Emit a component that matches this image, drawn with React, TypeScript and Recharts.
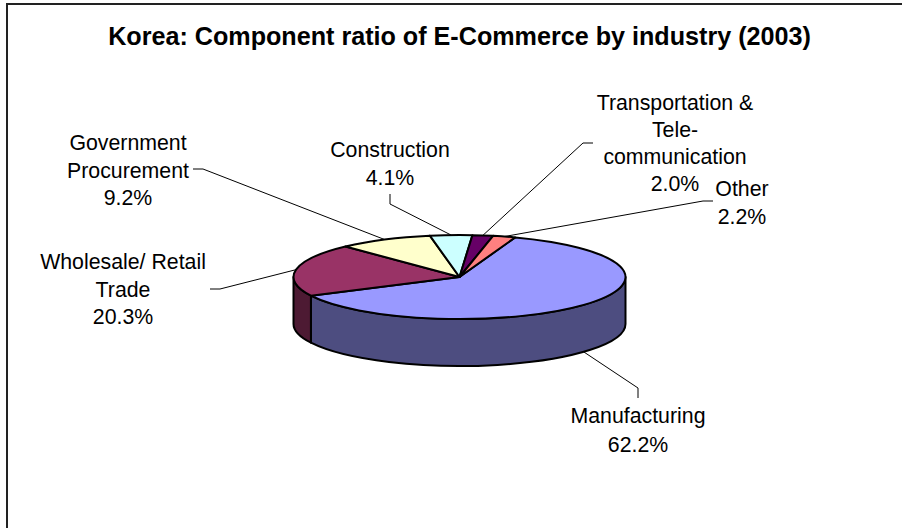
import React from 'react';
import { Pie, PieChart } from 'recharts';

const industries = ['Manufacturing', 'Wholesale/ Retail Trade', 'Government Procurement', 'Construction', 'Transportation & Tele-communication', 'Other'];
const shares = [62.2, 20.3, 9.2, 4.1, 2.0, 2.2];
const topColors = ['#9999FF', '#993366', '#FFFFCC', '#CCFFFF', '#660066', '#FF8080'];
const wallColors = ['#4D4D80', '#4D1A33', '#808066', '#668080', '#330033', '#804040'];

// wrapped text of each label, the last line being the share
const labelLines = [
  ['Manufacturing', '62.2%'],
  ['Wholesale/ Retail', 'Trade', '20.3%'],
  ['Government', 'Procurement', '9.2%'],
  ['Construction', '4.1%'],
  ['Transportation &', 'Tele-', 'communication', '2.0%'],
  ['Other', '2.2%'],
];

const WIDTH = 902;
const HEIGHT = 528;
const CX = 459.5;
const CY = 277;
const RADIUS = 166;
const TILT = 42 / 166;
const DEPTH = 47;
const FONT = '"Liberation Sans", Arial, sans-serif';

// where each label sits: centre x, first baseline, line pitch, and the leader's start and elbow
const labelLayout = [
  { x: 638, y: 423, pitch: 28.5, from: [638, 398], elbow: [638, 388] },
  { x: 123, y: 269, pitch: 27.5, from: [210, 289], elbow: [220, 289] },
  { x: 128, y: 150, pitch: 27.5, from: [193, 169], elbow: [203, 169] },
  { x: 390, y: 157, pitch: 27.5, from: [390, 194], elbow: [390, 204] },
  { x: 675, y: 110, pitch: 27, from: [593, 143], elbow: [583, 143] },
  { x: 742, y: 196, pitch: 27.5, from: [713, 201], elbow: [703, 201] },
];

const chartData = industries.map((name, i) => ({ name, value: shares[i], fill: topColors[i] }));
const wallData = industries.map((name, i) => ({ name, value: shares[i], fill: wallColors[i] }));

const rimPoint = (cx: number, cy: number, r: number, angle: number) => {
  const rad = (angle * Math.PI) / 180;
  return [cx + r * Math.cos(rad), cy - r * TILT * Math.sin(rad)];
};

// top face of a slice, the circle squashed into an ellipse
const TopSlice = (props: any) => {
  const { cx, cy, outerRadius, startAngle, endAngle, fill } = props;
  const [x1, y1] = rimPoint(cx, cy, outerRadius, startAngle);
  const [x2, y2] = rimPoint(cx, cy, outerRadius, endAngle);
  const large = Math.abs(startAngle - endAngle) > 180 ? 1 : 0;
  const d = `M${cx},${cy} L${x1},${y1} A${outerRadius},${outerRadius * TILT} 0 ${large} 1 ${x2},${y2} Z`;
  return <path d={d} fill={fill} stroke="#000" strokeWidth={2} strokeLinejoin="round" />;
};

// side wall of a slice, only the part of it facing the viewer
const WallSlice = (props: any) => {
  const { cx, cy, outerRadius, startAngle, endAngle, fill } = props;
  const hi = Math.min(startAngle, 0);
  const lo = Math.max(endAngle, -180);
  if (hi <= lo) return null;
  const [x1, y1] = rimPoint(cx, cy, outerRadius, hi);
  const [x2, y2] = rimPoint(cx, cy, outerRadius, lo);
  const rx = outerRadius;
  const ry = outerRadius * TILT;
  const d = `M${x1},${y1} A${rx},${ry} 0 0 1 ${x2},${y2} L${x2},${y2 + DEPTH} A${rx},${ry} 0 0 0 ${x1},${y1 + DEPTH} Z`;
  return <path d={d} fill={fill} stroke="#000" strokeWidth={2} strokeLinejoin="round" />;
};

const SliceLabel = (props: any) => {
  const { cx, cy, outerRadius, midAngle, index } = props;
  const layout = labelLayout[index];
  const [ex, ey] = rimPoint(cx, cy, outerRadius, midAngle);
  // a slice whose middle faces the viewer gets its leader from the bottom of the wall
  const front = Math.sin((midAngle * Math.PI) / 180) < -0.5;
  const points = [layout.from, layout.elbow, [ex, front ? ey + DEPTH : ey]].map((p) => p.join(',')).join(' ');
  return (
    <g>
      <polyline points={points} fill="none" stroke="#000" strokeWidth={1} />
      <text textAnchor="middle" fontFamily={FONT} fontSize={21.3} fill="#000">
        {labelLines[index].map((line, i) => (
          <tspan key={i} x={layout.x} y={layout.y + i * layout.pitch}>
            {line}
          </tspan>
        ))}
      </text>
    </g>
  );
};

export default function App() {
  return (
    <div style={{ position: 'absolute', left: 0, top: 0, width: WIDTH, height: HEIGHT, overflow: 'hidden', background: '#fff' }}>
      <div style={{ position: 'absolute', left: 6, top: 3, width: WIDTH, height: HEIGHT, borderLeft: '2px solid #222', borderTop: '2px solid #222' }} />
      <PieChart width={WIDTH} height={HEIGHT} margin={{ top: 0, right: 0, bottom: 0, left: 0 }} style={{ position: 'absolute', left: 0, top: 0 }}>
        <text x={459.5} y={45} textAnchor="middle" fontFamily={FONT} fontSize={25.15} fontWeight="bold" fill="#000">
          Korea: Component ratio of E-Commerce by industry (2003)
        </text>
        <Pie
          data={wallData}
          dataKey="value"
          cx={CX}
          cy={CY}
          outerRadius={RADIUS}
          startAngle={70.4}
          endAngle={-289.6}
          shape={WallSlice}
          isAnimationActive={false}
        />
        <Pie
          data={chartData}
          dataKey="value"
          cx={CX}
          cy={CY}
          outerRadius={RADIUS}
          startAngle={70.4}
          endAngle={-289.6}
          shape={TopSlice}
          label={SliceLabel}
          labelLine={false}
          isAnimationActive={false}
        />
      </PieChart>
    </div>
  );
}
